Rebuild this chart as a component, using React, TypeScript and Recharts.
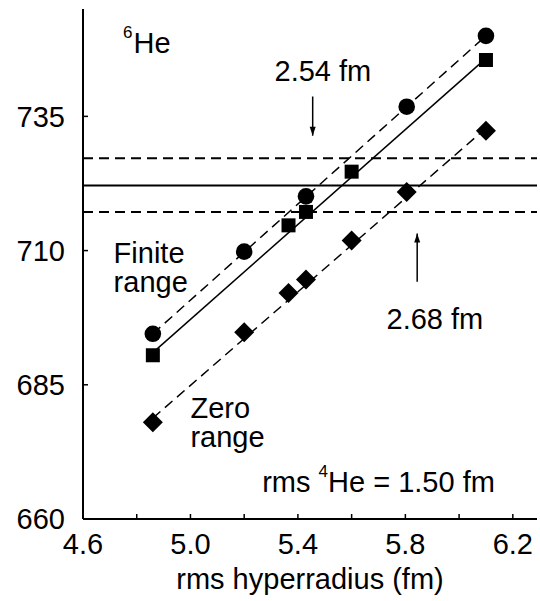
import React from 'react';
import { ComposedChart, Scatter, XAxis, YAxis, ReferenceLine, ReferenceDot } from 'recharts';

// ---- data ----
const finiteCircles = [
  { x: 4.86, y: 694.5 },
  { x: 5.2, y: 709.8 },
  { x: 5.43, y: 720.1 },
  { x: 5.805, y: 736.8 },
  { x: 6.1, y: 750.0 },
];
const finiteSquares = [
  { x: 4.86, y: 690.5 },
  { x: 5.365, y: 714.7 },
  { x: 5.43, y: 717.2 },
  { x: 5.6, y: 724.7 },
  { x: 6.1, y: 745.5 },
];
const zeroDiamonds = [
  { x: 4.86, y: 678.0 },
  { x: 5.2, y: 694.8 },
  { x: 5.365, y: 702.1 },
  { x: 5.43, y: 704.6 },
  { x: 5.6, y: 711.9 },
  { x: 5.805, y: 720.9 },
  { x: 6.1, y: 732.3 },
];
const circleFit = [
  { x: 4.86, y: 694.5 },
  { x: 6.1, y: 750.0 },
];
const squareFit = [
  { x: 4.86, y: 691.0 },
  { x: 6.1, y: 745.8 },
];
const diamondFit = [
  { x: 4.86, y: 678.8 },
  { x: 6.1, y: 732.8 },
];
const bandUpper = 727.2;
const bandCentral = 722.1;
const bandLower = 717.2;
const arrow254 = [
  { x: 5.455, y: 738.7 },
  { x: 5.455, y: 731.4 },
];
const arrow268 = [
  { x: 5.844, y: 704.2 },
  { x: 5.844, y: 713.2 },
];
const xTicks = [4.6, 4.8, 5.0, 5.2, 5.4, 5.6, 5.8, 6.0, 6.2];
const xTickLabels = ['4.6', '5.0', '5.4', '5.8', '6.2'];
const yTicks = [660, 685, 710, 735];
const yTickLabels = ['660', '685', '710', '735'];
const xDomain = [4.6, 6.29];
const yDomain = [660, 755];

// ---- styling ----
const FONT = "'Liberation Sans', Arial, Helvetica, sans-serif";
const FS = 29;
const TICK = 5;
const INK = '#000';

const BottomTick = (props: any) => {
  const { x, y, payload } = props;
  const lbl = payload.value.toFixed(1);
  return (
    <g>
      <line x1={x} x2={x} y1={y} y2={y - TICK} stroke={INK} strokeWidth={1.5} />
      {xTickLabels.includes(lbl) && (
        <text x={x} y={y + 35} textAnchor="middle" fontFamily={FONT} fontSize={FS} fill={INK}>
          {lbl}
        </text>
      )}
    </g>
  );
};
const TopTick = (props: any) => {
  const { x, y } = props;
  return <line x1={x} x2={x} y1={y} y2={y + TICK} stroke={INK} strokeWidth={1.5} />;
};
const LeftTick = (props: any) => {
  const { x, y, payload } = props;
  const lbl = String(payload.value);
  return (
    <g>
      <line x1={x} x2={x + TICK} y1={y} y2={y} stroke={INK} strokeWidth={1.5} />
      {yTickLabels.includes(lbl) && (
        <text x={x - 18} y={y} dy="0.36em" textAnchor="end" fontFamily={FONT} fontSize={FS} fill={INK}>
          {lbl}
        </text>
      )}
    </g>
  );
};
const RightTick = (props: any) => {
  const { x, y } = props;
  return <line x1={x} x2={x - TICK} y1={y} y2={y} stroke={INK} strokeWidth={1.5} />;
};

const CircleMark = (p: any) => <circle cx={p.cx} cy={p.cy} r={8.3} fill={INK} />;
const SquareMark = (p: any) => <rect x={p.cx - 7} y={p.cy - 7} width={14} height={14} fill={INK} />;
const DiamondMark = (p: any) => (
  <polygon
    points={`${p.cx},${p.cy - 10} ${p.cx + 10},${p.cy} ${p.cx},${p.cy + 10} ${p.cx - 10},${p.cy}`}
    fill={INK}
  />
);
const NoMark = () => <g />;
const DownHead = (p: any) => (
  <polygon points={`${p.cx},${p.cy} ${p.cx - 3},${p.cy - 9} ${p.cx + 3},${p.cy - 9}`} fill={INK} />
);
const UpHead = (p: any) => (
  <polygon points={`${p.cx},${p.cy} ${p.cx - 3},${p.cy + 9} ${p.cx + 3},${p.cy + 9}`} fill={INK} />
);

const label = (content: React.ReactNode, anchor: string = 'start') => (p: any) => (
  <text x={p.cx} y={p.cy} textAnchor={anchor} fontFamily={FONT} fontSize={FS} fill={INK}>
    {content}
  </text>
);

const dash = '10 6';

export default function App() {
  return (
    <div style={{ position: 'absolute', left: 0, top: 0 }}>
      <ComposedChart width={540} height={601} margin={{ top: 9, right: 3, bottom: 0, left: 0 }}>
        <XAxis
          xAxisId="b"
          type="number"
          dataKey="x"
          domain={xDomain}
          ticks={xTicks}
          interval={0}
          tickSize={0}
          tickMargin={0}
          tick={<BottomTick />}
          axisLine={{ stroke: INK, strokeWidth: 2 }}
          height={82}
          allowDataOverflow
        />
        <XAxis
          xAxisId="t"
          orientation="top"
          type="number"
          dataKey="x"
          domain={xDomain}
          ticks={xTicks}
          interval={0}
          tickSize={0}
          tickMargin={0}
          tick={<TopTick />}
          axisLine={{ stroke: INK, strokeWidth: 2 }}
          height={0}
          allowDataOverflow
        />
        <YAxis
          yAxisId="l"
          type="number"
          dataKey="y"
          domain={yDomain}
          ticks={yTicks}
          interval={0}
          tickSize={0}
          tickMargin={0}
          tick={<LeftTick />}
          axisLine={{ stroke: INK, strokeWidth: 2 }}
          width={83}
          allowDataOverflow
        />
        <YAxis
          yAxisId="r"
          orientation="right"
          type="number"
          dataKey="y"
          domain={yDomain}
          ticks={yTicks}
          interval={0}
          tickSize={0}
          tickMargin={0}
          tick={<RightTick />}
          axisLine={{ stroke: INK, strokeWidth: 2 }}
          width={0}
          allowDataOverflow
        />

        <Scatter xAxisId="t" yAxisId="r" data={finiteCircles} shape={NoMark} isAnimationActive={false} />

        <ReferenceLine xAxisId="b" yAxisId="l" y={bandUpper} stroke={INK} strokeWidth={2} strokeDasharray={dash} />
        <ReferenceLine xAxisId="b" yAxisId="l" y={bandCentral} stroke={INK} strokeWidth={2} />
        <ReferenceLine xAxisId="b" yAxisId="l" y={bandLower} stroke={INK} strokeWidth={2} strokeDasharray={dash} />

        <Scatter xAxisId="b" yAxisId="l" data={circleFit} shape={NoMark} line={{ stroke: INK, strokeWidth: 1.5, strokeDasharray: dash }} isAnimationActive={false} />
        <Scatter xAxisId="b" yAxisId="l" data={squareFit} shape={NoMark} line={{ stroke: INK, strokeWidth: 1.5 }} isAnimationActive={false} />
        <Scatter xAxisId="b" yAxisId="l" data={diamondFit} shape={NoMark} line={{ stroke: INK, strokeWidth: 1.5, strokeDasharray: dash }} isAnimationActive={false} />

        <Scatter xAxisId="b" yAxisId="l" data={finiteCircles} shape={CircleMark} isAnimationActive={false} />
        <Scatter xAxisId="b" yAxisId="l" data={finiteSquares} shape={SquareMark} isAnimationActive={false} />
        <Scatter xAxisId="b" yAxisId="l" data={zeroDiamonds} shape={DiamondMark} isAnimationActive={false} />

        <Scatter xAxisId="b" yAxisId="l" data={arrow254} shape={NoMark} line={{ stroke: INK, strokeWidth: 1.5 }} isAnimationActive={false} />
        <Scatter xAxisId="b" yAxisId="l" data={arrow268} shape={NoMark} line={{ stroke: INK, strokeWidth: 1.5 }} isAnimationActive={false} />
        <ReferenceDot xAxisId="b" yAxisId="l" x={arrow254[1].x} y={arrow254[1].y} ifOverflow="visible" shape={DownHead} />
        <ReferenceDot xAxisId="b" yAxisId="l" x={arrow268[1].x} y={arrow268[1].y} ifOverflow="visible" shape={UpHead} />

        <ReferenceDot xAxisId="b" yAxisId="l" x={4.749} y={746.8} ifOverflow="visible"
          shape={label(<><tspan fontSize={17} dy={-15}>6</tspan><tspan dx={1} dy={15}>He</tspan></>)} />
        <ReferenceDot xAxisId="b" yAxisId="l" x={5.493} y={741.5} ifOverflow="visible" shape={label('2.54 fm', 'middle')} />
        <ReferenceDot xAxisId="b" yAxisId="l" x={5.91} y={695.4} ifOverflow="visible" shape={label('2.68 fm', 'middle')} />
        <ReferenceDot xAxisId="b" yAxisId="l" x={4.714} y={707.6} ifOverflow="visible" shape={label('Finite')} />
        <ReferenceDot xAxisId="b" yAxisId="l" x={4.714} y={702.2} ifOverflow="visible" shape={label('range')} />
        <ReferenceDot xAxisId="b" yAxisId="l" x={5.0} y={678.9} ifOverflow="visible" shape={label('Zero')} />
        <ReferenceDot xAxisId="b" yAxisId="l" x={5.0} y={673.4} ifOverflow="visible" shape={label('range')} />
        <ReferenceDot xAxisId="b" yAxisId="l" x={5.267} y={665.1} ifOverflow="visible"
          shape={label(<><tspan>rms </tspan><tspan fontSize={17} dy={-15}>4</tspan><tspan dy={15}>He = 1.50 fm</tspan></>)} />
      </ComposedChart>
      <div
        style={{
          position: 'absolute',
          left: 0,
          top: 562,
          width: 620,
          textAlign: 'center',
          fontFamily: FONT,
          fontSize: FS,
          lineHeight: '34px',
          color: INK,
        }}
      >
        rms hyperradius (fm)
      </div>
    </div>
  );
}
